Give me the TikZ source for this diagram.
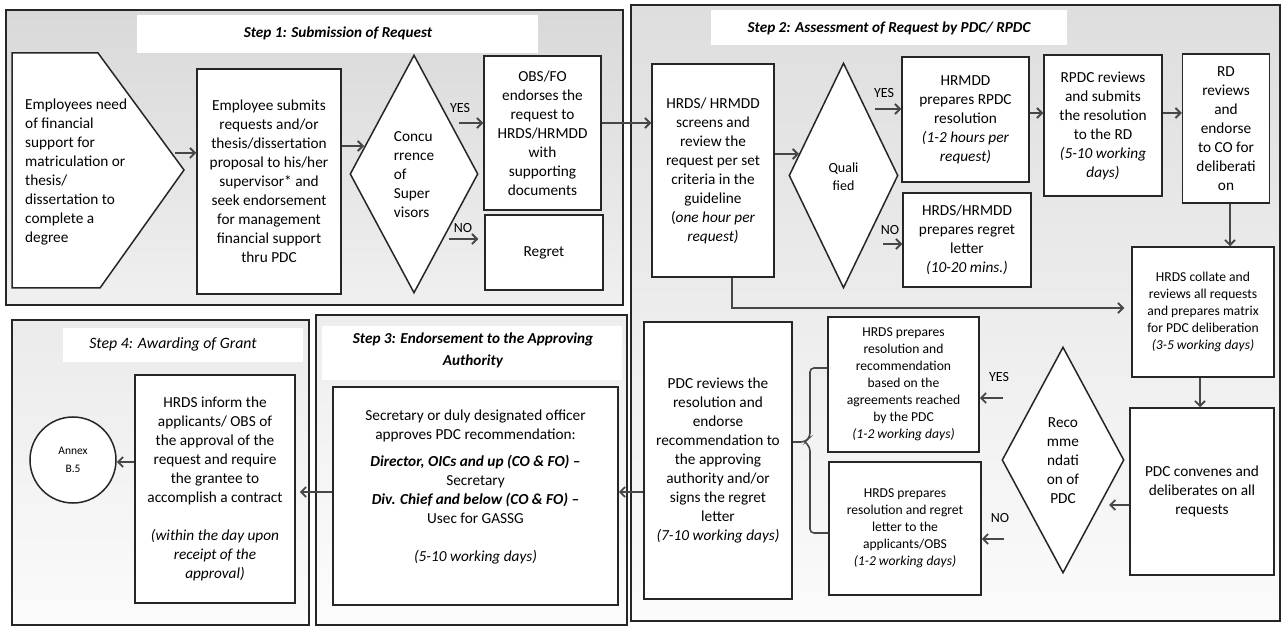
\documentclass[tikz,border=0pt]{standalone}
\usepackage{fontspec}
\setmainfont{Carlito}
\usetikzlibrary{arrows.meta,shapes.geometric}

\begin{document}
\begin{tikzpicture}[x=1pt,y=-1pt,
  ink/.style={draw=black!85},
  panel/.style={ink, line width=1.8pt},
  box/.style={ink, line width=1.5pt, fill=white, inner sep=0pt, align=center,
    font=\fontsize{15.3}{19}\selectfont},
  smallbox/.style={box, font=\fontsize{13.6}{17}\selectfont},
  dia/.style={diamond, ink, line width=1.5pt, fill=white, inner sep=0pt},
  txt/.style={inner sep=0pt, font=\fontsize{15.3}{19}\selectfont},
  lbl/.style={inner sep=0pt, font=\fontsize{14}{16}\selectfont},
  steptitle/.style={inner sep=0pt, align=center, font=\fontsize{15.2}{22}\selectfont\bfseries\itshape},
  arr/.style={draw=black!72, line width=1.8pt, -{Straight Barb[length=5pt,width=10pt]}},
  brace/.style={draw=black!72, line width=1.6pt, rounded corners=4pt},
]
\useasboundingbox (0,0) rectangle (1283,628);
\fill[white] (0,0) rectangle (1283,628);

% ---------- panels ----------
\draw[panel, top color=gray!30, bottom color=gray!12] (6,10) rectangle (623,305);
\draw[panel, top color=gray!26, bottom color=gray!3] (631,5) rectangle (1280,621);
\draw[panel, top color=gray!14, bottom color=gray!2] (316,315) rectangle (627,625);
\draw[panel, top color=gray!16, bottom color=gray!3] (12,320) rectangle (309,625);

% title areas
\fill[white] (137,15) rectangle (538,53);
\fill[white] (711,10) rectangle (1067,45);
\fill[white] (322,326) rectangle (622,380);
\fill[white] (63,328) rectangle (303,362);

\node[steptitle] (s1) at (338,33) {Step 1: Submission of Request};
\node[steptitle] (s2) at (889,28) {Step 2: Assessment of Request by PDC/ RPDC};
\node[steptitle] (s3) at (473,350) {Step 3: Endorsement to the Approving\\Authority};
\node[steptitle, font=\fontsize{15.8}{22}\selectfont\itshape] (s4) at (173,344) {Step 4: Awarding of Grant};

% ---------- step 1 ----------
\draw[ink, line width=1.5pt, fill=white] (12,53) coordinate (ch1) -- (98,53) -- (184,170) coordinate (chtip)
  -- (100,288) -- (12,288) -- cycle;
\node[txt, align=left, anchor=west] (emp) at (25,172)
  {Employees need\\of financial\\support for\\matriculation or\\thesis/\\dissertation to\\complete a\\degree};

\node[box, minimum width=144, minimum height=225] (box2) at (269,181.5)
  {Employee submits\\requests and/or\\thesis/dissertation\\proposal to his/her\\supervisor* and\\seek endorsement\\for management\\financial support\\thru PDC};

\node[dia, minimum width=128, minimum height=238] (d1) at (414,174) {};
\node[txt, align=left] (d1t) at (414,175) {Concu\\rrence\\of\\Super\\visors};

\node[box, minimum width=117, minimum height=154] (obs) at (542.5,133)
  {OBS/FO\\endorses the\\request to\\HRDS/HRMDD\\with\\supporting\\documents};
\node[box, minimum width=118, minimum height=75] (regret) at (544,252.5) {Regret};

\node[lbl] (yes1) at (460,108) {YES};
\node[lbl] (no1) at (463,228) {NO};

% ---------- step 2 ----------
\node[box, minimum width=122, minimum height=213] (hrds) at (713,170.5)
  {HRDS/ HRMDD\\screens and\\review the\\request per set\\criteria in the\\guideline\\(\textit{one hour per}\\\textit{request)}};

\node[dia, minimum width=109, minimum height=225] (d2) at (843.5,175.5) {};
\node[txt, align=center, font=\fontsize{14}{18}\selectfont] (d2t) at (843.5,177) {Quali\\fied};

\node[box, minimum width=127, minimum height=125] (hrmdd) at (965.5,119.5)
  {HRMDD\\prepares RPDC\\resolution\\\textit{(1-2 hours per}\\\textit{request)}};
\node[box, minimum width=128, minimum height=94] (regret2) at (967,240)
  {HRDS/HRMDD\\prepares regret\\letter\\\textit{(10-20 mins.)}};
\node[box, minimum width=118, minimum height=141] (rpdc) at (1103,125.5)
  {RPDC reviews\\and submits\\the resolution\\to the RD\\\textit{(5-10 working}\\\textit{days)}};
\node[box, minimum width=87, minimum height=149] (rd) at (1226,128.5)
  {RD\\reviews\\and\\endorse\\to CO for\\deliberati\\on};

\node[lbl] (yes2) at (884,93) {YES};
\node[lbl] (no2) at (890,230) {NO};

\node[smallbox, minimum width=142, minimum height=130] (collate) at (1203,312)
  {HRDS collate and\\reviews all requests\\and prepares matrix\\for PDC deliberation\\\textit{(3-5 working days)}};
\node[box, minimum width=144, minimum height=167] (conv) at (1202,491.5)
  {PDC convenes and\\deliberates on all\\requests};

\node[dia, minimum width=122, minimum height=226] (d3) at (1063,460) {};
\node[txt, align=center] (d3t) at (1063,461) {Reco\\mme\\ndati\\on of\\PDC};

\node[smallbox, minimum width=151, minimum height=135] (upper) at (903.5,384.5)
  {HRDS prepares\\resolution and\\recommendation\\based on the\\agreements reached\\by the PDC\\\textit{(1-2 working days)}};
\node[smallbox, minimum width=152, minimum height=133] (lower) at (905,528.5)
  {HRDS prepares\\resolution and regret\\letter to the\\applicants/OBS\\\textit{(1-2 working days)}};

\node[lbl] (yes3) at (999,377) {YES};
\node[lbl] (no3) at (1000,518) {NO};

\node[box, minimum width=148, minimum height=277] (reviews) at (718,460.5)
  {PDC reviews the\\resolution and\\endorse\\recommendation to\\the approving\\authority and/or\\signs the regret\\letter\\\textit{(7-10 working days)}};

% ---------- step 3 ----------
\node[box, minimum width=285, minimum height=218] (s3box) at (475.5,496) {};
\node[txt, align=center] (s3t) at (475.5,486.5)
  {Secretary or duly designated officer\\approves PDC recommendation:\\[8pt]
   \textbf{\textit{Director, OICs and up (CO \& FO) –}}\\Secretary\\
   \textbf{\textit{Div. Chief and below (CO \& FO) –}}\\Usec for GASSG\\[19pt]
   \textit{(5-10 working days)}};

% ---------- step 4 ----------
\node[box, minimum width=160, minimum height=228] (inform) at (215,489)
  {HRDS inform the\\applicants/ OBS of\\the approval of the\\request and require\\the grantee to\\accomplish a contract\\[19pt]
   \textit{(within the day upon}\\\textit{receipt of the}\\\textit{approval)}};
\node[circle, ink, line width=1.5pt, fill=white, minimum size=86, inner sep=0pt, align=center,
  font=\fontsize{11.5}{18}\selectfont] (annex) at (73,460) {Annex\\B.5};

% ---------- connectors ----------
\coordinate (t1) at (175,153);
\draw[arr] (t1) -- (t1 -| box2.west);
\coordinate (t2) at (364,146);
\draw[arr] (t2 -| box2.east) -- (t2);
\coordinate (t3) at (459,123);
\draw[arr] (t3) -- (t3 -| obs.west);
\coordinate (t4) at (449,239);
\draw[arr, shorten >=6pt] (t4) -- (t4 -| regret.west);
\draw[arr] (t3 -| obs.east) -- (t3 -| hrds.west);

\coordinate (t5) at (799,154);
\draw[arr] (t5 -| hrds.east) -- (t5);
\coordinate (t6) at (875,109);
\draw[arr] (t6) -- (t6 -| hrmdd.west);
\coordinate (t7) at (883,244);
\draw[arr] (t7) -- (t7 -| regret2.west);
\coordinate (t8) at (1000,113);
\draw[arr] (t8 -| hrmdd.east) -- (t8 -| rpdc.west);
\draw[arr] (t8 -| rpdc.east) -- (t8 -| rd.west);
\coordinate (t9) at (1230,0);
\draw[arr] (t9 |- rd.south) -- (t9 |- collate.north);
\coordinate (t10) at (732,308);
\draw[arr, shorten >=7pt] (t10 |- hrds.south) -- (t10) -- (t10 -| collate.west);
\coordinate (t11) at (1200,0);
\draw[arr] (t11 |- collate.south) -- (t11 |- conv.north);
\coordinate (t12) at (1109,505);
\draw[arr] (t12 -| conv.west) -- (t12);
\coordinate (t13) at (1003,398);
\draw[arr] (t13) -- (t13 -| upper.east);
\coordinate (t14) at (1004,539);
\draw[arr] (t14) -- (t14 -| lower.east);

% brace joining the two outcomes to the PDC review
\coordinate (bu) at (810,368);
\coordinate (bl) at (810,533);
\coordinate (bm) at (805,442);
\draw[brace] (bu -| upper.west) -- (bu) -- (810,437) -- (bm) -- (bm -| reviews.east);
\draw[brace] (bl -| lower.west) -- (bl) -- (810,447) -- (bm);

\coordinate (t15) at (0,492);
\draw[arr] (t15 -| reviews.west) -- (t15 -| s3box.east);
\draw[arr, shorten >=4pt] (t15 -| s3box.west) -- (t15 -| inform.east);
\coordinate (t16) at (0,462);
\draw[arr] (t16 -| inform.west) -- (t16 -| annex.east);
\end{tikzpicture}
\end{document}
